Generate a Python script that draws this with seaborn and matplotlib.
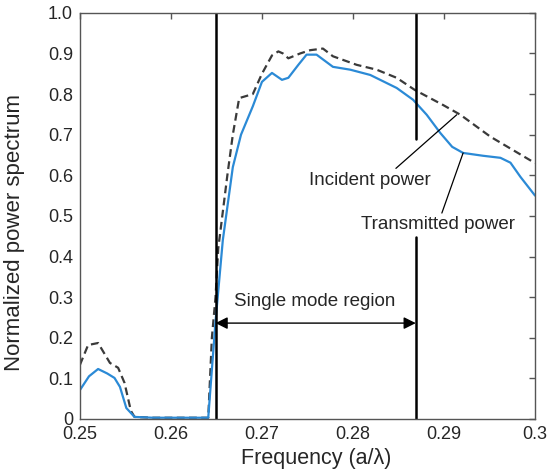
import numpy as np
import pandas as pd
import matplotlib.pyplot as plt
import seaborn as sns

# Espectro transmitido (línea azul)
freq_trans = [0.2500, 0.2510, 0.2520, 0.2530, 0.2538, 0.2544, 0.2551, 0.2560, 0.2580,
              0.2600, 0.2620, 0.2641, 0.2649, 0.2657, 0.2668, 0.2677, 0.2690, 0.2700,
              0.2711, 0.2722, 0.2729, 0.2740, 0.2749, 0.2760, 0.2778, 0.2797, 0.2819,
              0.2848, 0.2866, 0.2881, 0.2896, 0.2909, 0.2921, 0.2943, 0.2962, 0.2973,
              0.2984, 0.3000]
pow_trans = [0.071, 0.105, 0.123, 0.112, 0.101, 0.079, 0.027, 0.005, 0.003,
             0.003, 0.003, 0.003, 0.240, 0.440, 0.620, 0.700, 0.770, 0.830,
             0.852, 0.835, 0.840, 0.872, 0.897, 0.897, 0.867, 0.860, 0.847,
             0.815, 0.786, 0.749, 0.704, 0.670, 0.655, 0.648, 0.643, 0.631,
             0.596, 0.550]

# Espectro incidente (línea discontinua)
freq_inc = [0.2500, 0.2509, 0.2520, 0.2533, 0.2542, 0.2549, 0.2556, 0.2560, 0.2580,
            0.2600, 0.2620, 0.2641, 0.2645, 0.2649, 0.2652, 0.2662, 0.2668, 0.2675,
            0.2690, 0.2700, 0.2711, 0.2718, 0.2723, 0.2729, 0.2742, 0.2753, 0.2767,
            0.2778, 0.2804, 0.2826, 0.2848, 0.2868, 0.2899, 0.2918, 0.2951, 0.3000]
pow_inc = [0.133, 0.182, 0.187, 0.138, 0.126, 0.089, 0.020, 0.005, 0.003,
           0.003, 0.003, 0.003, 0.200, 0.300, 0.420, 0.600, 0.700, 0.790,
           0.800, 0.850, 0.895, 0.905, 0.900, 0.888, 0.900, 0.908, 0.912,
           0.893, 0.872, 0.860, 0.840, 0.810, 0.773, 0.749, 0.695, 0.630]

region_edges = [0.2649, 0.2869]
x_ticks = [0.25, 0.26, 0.27, 0.28, 0.29, 0.30]
x_labels = ['0.25', '0.26', '0.27', '0.28', '0.29', '0.3']
y_ticks = [0, 0.1, 0.2, 0.3, 0.4, 0.5, 0.6, 0.7, 0.8, 0.9, 1.0]
y_labels = ['0', '0.1', '0.2', '0.3', '0.4', '0.5', '0.6', '0.7', '0.8', '0.9', '1.0']

sns.set_style('white')
plt.rcParams['font.family'] = ['Liberation Sans', 'DejaVu Sans']

df_t = pd.DataFrame({'f': freq_trans, 'p': pow_trans})
df_i = pd.DataFrame({'f': freq_inc, 'p': pow_inc})

fig = plt.figure(figsize=(5.51, 4.75), dpi=100)
ax = fig.add_axes([0.145, 0.118, 0.826, 0.855])

sns.lineplot(data=df_i, x='f', y='p', ax=ax, color='#3a3a3a', lw=1.6,
             linestyle=(0, (3.5, 2)), estimator=None, sort=False)
sns.lineplot(data=df_t, x='f', y='p', ax=ax, color='#2b8ad6', lw=1.6,
             estimator=None, sort=False)

# Líneas verticales de la región monomodo
ax.plot([region_edges[0]] * 2, [0, 1.0], color='black', lw=1.8)
ax.plot([region_edges[1]] * 2, [0.69, 1.0], color='black', lw=1.8)
ax.plot([region_edges[1]] * 2, [0, 0.448], color='black', lw=1.8)

ax.annotate('', xy=(region_edges[0], 0.236), xytext=(region_edges[1], 0.236),
            arrowprops=dict(arrowstyle='<|-|>', color='black', lw=1.0,
                            mutation_scale=18, shrinkA=0, shrinkB=0))
ax.text(0.2758, 0.29, 'Single mode region', ha='center', va='center', fontsize=13.5)

ax.annotate('Incident power', xy=(0.2914, 0.749), xytext=(0.2819, 0.588),
            ha='center', va='center', fontsize=13.5,
            arrowprops=dict(arrowstyle='-', color='black', lw=0.9,
                            shrinkA=0, shrinkB=0, relpos=(0.68, 1.0)))
ax.annotate('Transmitted power', xy=(0.2921, 0.655), xytext=(0.2893, 0.478),
            ha='center', va='center', fontsize=13.5,
            arrowprops=dict(arrowstyle='-', color='black', lw=0.9,
                            shrinkA=0, shrinkB=0, relpos=(0.52, 1.0)))

ax.set_xlim(0.25, 0.30)
ax.set_ylim(0, 1.0)
ax.set_xticks(x_ticks)
ax.set_xticklabels(x_labels)
ax.set_yticks(y_ticks)
ax.set_yticklabels(y_labels)
ax.tick_params(direction='in', length=4, width=1, labelsize=13, color='#555555',
               top=True, right=True, pad=5)
for s in ax.spines.values():
    s.set_color('#555555')
    s.set_linewidth(1.0)
ax.set_xlabel('Frequency (a/λ)', fontsize=15.5)
ax.set_ylabel('Normalized power spectrum', fontsize=16)
ax.xaxis.set_label_coords(0.519, -0.072)
ax.yaxis.set_label_coords(-0.121, 0.46)

plt.savefig('out.png', dpi=100)
plt.close()
